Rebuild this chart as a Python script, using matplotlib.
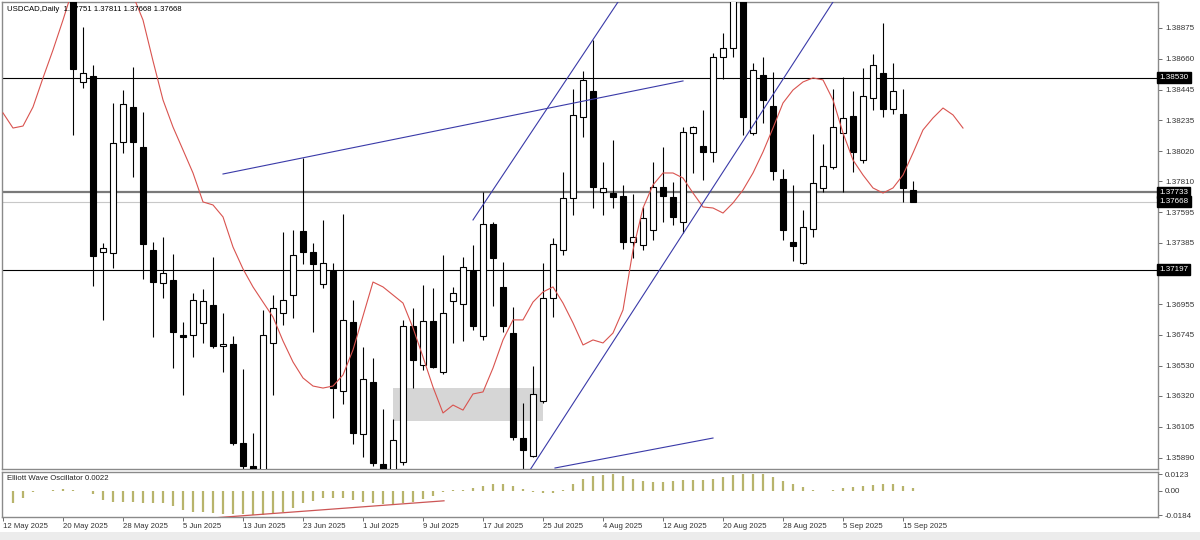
import matplotlib
matplotlib.use("Agg")
import matplotlib.pyplot as plt
import matplotlib.transforms as mtransforms
import numpy as np
import pandas as pd

plt.rcParams['font.family'] = ['Liberation Sans', 'DejaVu Sans']

# ---------------- data ----------------
start_date = "2025-05-12"
opens = [1.3935, 1.3985, 1.3955, 1.3975, 1.3945, 1.3960, 1.3950, 1.3935, 1.38500, 1.38541,
         1.37320, 1.37313, 1.38083, 1.38326, 1.38048, 1.37333, 1.37104, 1.37125, 1.36743, 1.36743,
         1.36827, 1.36952, 1.36670, 1.36681, 1.35994, 1.35834, 1.35750, 1.36688, 1.36896, 1.37021,
         1.37465, 1.37320, 1.37097, 1.37188, 1.36354, 1.36834, 1.36056, 1.36417, 1.35848, 1.35800,
         1.35862, 1.36806, 1.36535, 1.36841, 1.36487, 1.36979, 1.36958, 1.37188, 1.36737, 1.37514,
         1.37077, 1.36757, 1.36028, 1.35904, 1.36285, 1.37000, 1.37333, 1.37694, 1.38257, 1.38437,
         1.37736, 1.37729, 1.37708, 1.37389, 1.37368, 1.37472, 1.37771, 1.37701, 1.37528, 1.38146,
         1.38056, 1.38014, 1.38673, 1.38736, 1.39100, 1.38146, 1.38548, 1.38333, 1.37826, 1.37389,
         1.37243, 1.37479, 1.37764, 1.37910, 1.38146, 1.38264, 1.37958, 1.38389, 1.38562, 1.38312,
         1.38278, 1.37751]
highs = [1.4015, 1.3995, 1.3990, 1.3985, 1.3970, 1.3975, 1.3965, 1.3945, 1.38882, 1.38618,
         1.37382, 1.38354, 1.38444, 1.38604, 1.38291, 1.37389, 1.37424, 1.37306, 1.36834, 1.37035,
         1.37063, 1.37285, 1.36896, 1.36737, 1.36507, 1.36063, 1.36917, 1.37021, 1.37459, 1.37472,
         1.37972, 1.37382, 1.37542, 1.37243, 1.37583, 1.36986, 1.36660, 1.36584, 1.36230, 1.36160,
         1.36848, 1.36931, 1.37091, 1.37070, 1.37299, 1.37077, 1.37285, 1.37368, 1.37736, 1.37530,
         1.37250, 1.36938, 1.36271, 1.36528, 1.37243, 1.37417, 1.37875, 1.38451, 1.38576, 1.38791,
         1.37944, 1.38097, 1.37785, 1.37722, 1.37632, 1.37944, 1.38048, 1.37806, 1.38188, 1.38194,
         1.38305, 1.38701, 1.38840, 1.39150, 1.39200, 1.38632, 1.38673, 1.38569, 1.37896, 1.37785,
         1.37611, 1.38139, 1.38069, 1.38451, 1.38534, 1.38437, 1.38597, 1.38694, 1.38909, 1.38632,
         1.38451, 1.37811]
lows = [1.3930, 1.3930, 1.3940, 1.3920, 1.3925, 1.3920, 1.3910, 1.38132, 1.38458, 1.37084,
        1.36848, 1.37209, 1.38007, 1.37840, 1.37132, 1.36730, 1.37000, 1.36514, 1.36327, 1.36591,
        1.36688, 1.36653, 1.36487, 1.35980, 1.35780, 1.35700, 1.35700, 1.36327, 1.36813, 1.36861,
        1.37236, 1.36764, 1.37070, 1.36167, 1.36264, 1.35987, 1.35897, 1.35834, 1.35780, 1.35780,
        1.35841, 1.36375, 1.36500, 1.36514, 1.36473, 1.36688, 1.36702, 1.36778, 1.36709, 1.36945,
        1.36764, 1.36015, 1.35813, 1.35897, 1.36271, 1.36868, 1.37299, 1.37576, 1.38118, 1.37625,
        1.37576, 1.37625, 1.37340, 1.37278, 1.37333, 1.37403, 1.37528, 1.37507, 1.37451, 1.37868,
        1.37819, 1.37944, 1.38521, 1.38673, 1.38132, 1.38132, 1.38215, 1.37819, 1.37403, 1.37257,
        1.37236, 1.37424, 1.37736, 1.37896, 1.37736, 1.37875, 1.37938, 1.38305, 1.38257, 1.38278,
        1.37667, 1.37668]
closes = [1.3985, 1.3955, 1.3975, 1.3945, 1.3960, 1.3950, 1.3935, 1.38590, 1.38562, 1.37292,
          1.37347, 1.38076, 1.38349, 1.38083, 1.37375, 1.37111, 1.37174, 1.36764, 1.36730, 1.36986,
          1.36979, 1.36667, 1.36681, 1.35994, 1.35834, 1.35806, 1.36744, 1.36931, 1.36986, 1.37299,
          1.37320, 1.37236, 1.37243, 1.36375, 1.36848, 1.36063, 1.36438, 1.35855, 1.35813, 1.36015,
          1.36806, 1.36570, 1.36841, 1.36521, 1.36896, 1.37035, 1.37215, 1.36806, 1.37514, 1.37278,
          1.36806, 1.36035, 1.35945, 1.36334, 1.37000, 1.37375, 1.37694, 1.38271, 1.38514, 1.37771,
          1.37764, 1.37701, 1.37389, 1.37424, 1.37556, 1.37771, 1.37708, 1.37563, 1.38153, 1.38188,
          1.38014, 1.38673, 1.38736, 1.39090, 1.38257, 1.38583, 1.38375, 1.37882, 1.37472, 1.37361,
          1.37493, 1.37799, 1.37917, 1.38188, 1.38250, 1.38014, 1.38403, 1.38618, 1.38312, 1.38437,
          1.37764, 1.37668]

# shifted moving average (extends 5 bars past the last candle)
ma_values = [1.38285, 1.38180, 1.38194, 1.38326, 1.38528, 1.38722, 1.38930, 1.3915, 1.3925, 1.3932,
             1.3932, 1.3925, 1.3915, 1.3910, 1.38930, 1.38646, 1.38375, 1.38187, 1.38028, 1.37868,
             1.37667, 1.37646, 1.37563, 1.37354, 1.37202, 1.37077, 1.36972, 1.36868, 1.36702, 1.36556,
             1.36445, 1.36389, 1.36375, 1.36389, 1.36466, 1.36640, 1.36875, 1.37111, 1.37077, 1.37021,
             1.36965, 1.36792, 1.36591, 1.36382, 1.36202, 1.36257, 1.36222, 1.36334, 1.36348, 1.36514,
             1.36709, 1.36848, 1.36848, 1.36972, 1.37042, 1.37077, 1.36965, 1.36827, 1.36674, 1.36709,
             1.36688, 1.36757, 1.36917, 1.37333, 1.37625, 1.37785, 1.37868, 1.37868, 1.37833, 1.37729,
             1.37632, 1.37625, 1.37590, 1.37660, 1.37750, 1.37868, 1.38014, 1.38180, 1.38354, 1.38444,
             1.38500, 1.38528, 1.38514, 1.38375, 1.38146, 1.37958, 1.37854, 1.37764, 1.37729, 1.37764,
             1.37854, 1.38007, 1.38167, 1.38250, 1.38319, 1.38271, 1.38180]

ewo_values = [np.nan, -0.0096, -0.0053, -0.0010, -0.0002, 0.0005, 0.0010, 0.0005, -0.0005, -0.0028,
              -0.0071, -0.0089, -0.0089, -0.0089, -0.0096, -0.0096, -0.0096, -0.0116, -0.0147, -0.0159,
              -0.0164, -0.0172, -0.0180, -0.0180, -0.0180, -0.0184, -0.0184, -0.0180, -0.0159, -0.0134,
              -0.0096, -0.0076, -0.0058, -0.0058, -0.0058, -0.0071, -0.0083, -0.0096, -0.0104, -0.0104,
              -0.0096, -0.0083, -0.0066, -0.0038, -0.0008, 0.0003, 0.0008, 0.0017, 0.0034, 0.0047,
              0.0047, 0.0034, 0.0010, -0.0013, -0.0020, -0.0020, 0.0005, 0.0047, 0.0086, 0.0108,
              0.0116, 0.0123, 0.0108, 0.0086, 0.0071, 0.0066, 0.0066, 0.0071, 0.0079, 0.0079,
              0.0079, 0.0086, 0.0103, 0.0116, 0.0123, 0.0123, 0.0123, 0.0103, 0.0071, 0.0049,
              0.0025, 0.0003, -0.0003, 0.0003, 0.0017, 0.0030, 0.0037, 0.0042, 0.0047, 0.0047,
              0.0037, 0.0022]

# horizontal levels
level_black = [1.38530, 1.37197]
level_grey = 1.37733
level_bid = 1.37668

# drawn objects: (bar index, price)
trend_lines = [
    ((22.0, 1.37861), (68.0, 1.38507)),
    ((47.0, 1.37542), (61.5, 1.39055)),
    ((52.7, 1.35806), (83.0, 1.39055)),
    ((55.2, 1.35820), (71.0, 1.36028)),
]
zone = (39.0, 54.0, 1.36146, 1.36375)
ewo_trend = ((21.2, -0.0205), (44.1, -0.0077))

price_ticks = [1.38875, 1.38660, 1.38445, 1.38235, 1.38020, 1.37810, 1.37595, 1.37385,
               1.36955, 1.36745, 1.36530, 1.36320, 1.36105, 1.35890]
ewo_ticks = [0.0123, 0.0, -0.0184]
ewo_tick_labels = ["0.0123", "0.00", "-0.0184"]
title_text = "USDCAD,Daily  1.37751 1.37811 1.37668 1.37668"
ewo_title = "Elliott Wave Oscillator 0.0022"

# ---------------- figure ----------------
W, H = 1200, 540
fig = plt.figure(figsize=(12, 5.4), dpi=100)
fig.patch.set_facecolor("white")

ax = fig.add_axes([2 / W, 71 / H, 1156 / W, 467 / H])
ax2 = fig.add_axes([2 / W, 23 / H, 1156 / W, 45 / H], sharex=ax)

n = len(opens)
idx = np.arange(n)
dates = pd.bdate_range(start_date, periods=n)

o = np.array(opens); h = np.array(highs); l = np.array(lows); c = np.array(closes)
up = c >= o

# grey zone behind candles
ax.add_patch(plt.Rectangle((zone[0], zone[2]), zone[1] - zone[0], zone[3] - zone[2],
                           facecolor="#d6d6d6", edgecolor="none", zorder=0.5))

# levels
for lv in level_black:
    ax.axhline(lv, color="black", lw=0.8, zorder=1)
ax.axhline(level_grey, color="#7a7a7a", lw=1.6, zorder=1)
ax.axhline(level_bid, color="#c8c8c8", lw=0.8, zorder=1)

# wicks
ax.vlines(idx, l, h, color="black", lw=0.8, zorder=2)
# bodies
bw = 0.64
bottoms = np.minimum(o, c)
heights = np.maximum(np.abs(c - o), 0.00002)
ax.bar(idx[up], heights[up], bottom=bottoms[up], width=bw, facecolor="white",
       edgecolor="black", lw=0.8, zorder=3)
ax.bar(idx[~up], heights[~up], bottom=bottoms[~up], width=bw, facecolor="black",
       edgecolor="black", lw=0.8, zorder=3)

# moving average
ax.plot(np.arange(len(ma_values)), ma_values, color="#d9534f", lw=0.8, zorder=4)

# trend lines
for (x0, y0), (x1, y1) in trend_lines:
    ax.plot([x0, x1], [y0, y1], color="#3a3aa8", lw=0.8, zorder=4)

ax.set_xlim(-0.1, 115.5)
ax.set_ylim(1.35813, 1.39055)

# right axis ticks
ax.yaxis.tick_right()
ax.set_yticks(price_ticks)
ax.set_yticklabels([f"{t:.5f}" for t in price_ticks])
ax.tick_params(axis="y", which="both", length=3, width=0.6, colors="#555555",
               labelsize=5.8, labelcolor="#333333", pad=2)
ax.tick_params(axis="x", which="both", length=0, labelbottom=False)

# boxed labels on right
trans = mtransforms.blended_transform_factory(ax.transAxes, ax.transData)
for val in level_black + [level_grey, level_bid]:
    ax.text(1.0012, val, f"{val:.5f}", transform=trans, fontsize=5.8, color="white",
            va="center", ha="left", zorder=10, clip_on=False,
            bbox=dict(facecolor="black", edgecolor="black", boxstyle="square,pad=0.25"))

ax.text(0.004, 0.985, title_text, transform=ax.transAxes, fontsize=5.6, color="black",
        va="center", ha="left", zorder=11)

for sp in ax.spines.values():
    sp.set_color("#8a8a8a")
    sp.set_linewidth(1.0)

# ---------------- oscillator ----------------
ev = np.array(ewo_values)
ax2.vlines(idx, 0, ev, color="#b8b46c", lw=1.6, zorder=2)
ax2.plot([ewo_trend[0][0], ewo_trend[1][0]], [ewo_trend[0][1], ewo_trend[1][1]],
         color="#cc5555", lw=0.9, zorder=3)
ax2.set_ylim(-0.0199, 0.0140)
ax2.yaxis.tick_right()
ax2.set_yticks(ewo_ticks)
ax2.set_yticklabels(ewo_tick_labels)
ax2.tick_params(axis="y", length=3, width=0.6, colors="#555555", labelsize=5.8,
                labelcolor="#333333", pad=2)
ax2.text(0.004, 0.86, ewo_title, transform=ax2.transAxes, fontsize=5.6, color="#222222",
         va="center", ha="left")

tick_pos = idx[::6]
tick_lab = [f"{d.day} {d.strftime('%b')} {d.year}" for d in dates[::6]]
ax2.set_xticks(tick_pos)
ax2.set_xticklabels(tick_lab, ha="left")
ax2.tick_params(axis="x", length=3, width=0.6, colors="#555555", labelsize=5.6,
                labelcolor="#333333", pad=1.5)
for sp in ax2.spines.values():
    sp.set_color("#8a8a8a")
    sp.set_linewidth(1.0)

# bottom strip
fig.patches.append(plt.Rectangle((0, 0), 1, 8 / H, transform=fig.transFigure,
                                 facecolor="#ececec", edgecolor="none", zorder=0))

fig.savefig("out.png", dpi=100, facecolor="white")
